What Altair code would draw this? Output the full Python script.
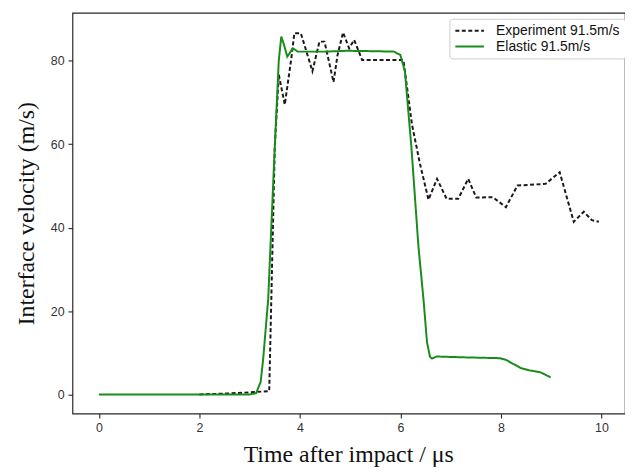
import altair as alt
import pandas as pd

# Experiment 91.5 m/s (dashed black)
exp_t = [2.0, 2.5, 3.0, 3.39, 3.50, 3.58, 3.70, 3.83, 3.89, 4.02, 4.25, 4.39, 4.49,
         4.67, 4.75, 4.86, 4.98, 5.08, 5.24, 6.06, 6.23, 6.39, 6.56, 6.73, 6.92,
         7.15, 7.35, 7.51, 7.84, 8.10, 8.33, 8.89, 9.17, 9.45, 9.65, 9.81, 9.95]
exp_v = [0.0, 0.2, 0.5, 0.8, 59.2, 76.7, 69.5, 80.6, 86.6, 86.6, 77.5, 84.6, 84.6,
         74.9, 81.4, 86.8, 83.0, 85.0, 80.2, 80.2, 64.8, 55.3, 46.7, 51.7, 46.9,
         46.9, 51.7, 47.2, 47.3, 44.9, 50.1, 50.5, 53.3, 41.4, 43.8, 41.8, 41.4]

# Elastic 91.5 m/s (solid green)
el_t = [0.0, 3.0, 3.13, 3.22, 3.27, 3.37, 3.50, 3.58, 3.63, 3.68, 3.75, 3.86, 3.96,
        4.5, 4.94, 5.5, 5.87, 6.00, 6.09, 6.22, 6.36, 6.46, 6.53, 6.59, 6.63, 6.72,
        7.25, 7.97, 8.10, 8.20, 8.30, 8.40, 8.56, 8.79, 8.99]
el_v = [0.0, 0.0, 0.3, 3.0, 8.5, 22.9, 59.2, 80.0, 85.8, 84.0, 81.0, 83.0, 82.2,
        82.2, 82.4, 82.3, 82.2, 81.4, 77.5, 59.2, 35.4, 22.8, 12.5, 9.0, 8.6, 9.1,
        8.9, 8.7, 8.3, 7.6, 7.0, 6.3, 5.8, 5.3, 4.1]

series = ["Experiment 91.5m/s", "Elastic 91.5m/s"]
colors = ["#1a1a1a", "#1a8c1a"]
dashes = [[4, 2.5], [1, 0]]

rows = []
for i, (t, v) in enumerate(zip(exp_t, exp_v)):
    rows.append({"t": t, "v": v, "series": series[0], "order": i})
for i, (t, v) in enumerate(zip(el_t, el_v)):
    rows.append({"t": t, "v": v, "series": series[1], "order": i})
df = pd.DataFrame(rows)

leg = alt.Legend(title=None, orient="none", legendX=380, legendY=6,
                 fillColor="white", strokeColor="#cccccc", cornerRadius=3, padding=5,
                 labelFont="Liberation Sans", labelFontSize=14, labelColor="#111111",
                 symbolType="M-1,0H3.8", symbolSize=144, symbolStrokeWidth=2,
                 rowPadding=2, labelOffset=28)

chart = alt.Chart(df).mark_line(strokeWidth=2).encode(
    x=alt.X("t:Q", scale=alt.Scale(domain=[-0.525, 10.47], nice=False, zero=False),
            axis=alt.Axis(values=[0, 2, 4, 6, 8, 10], title="Time after impact / μs",
                          grid=False, domain=False,
                          titleX=278, titleY=48.5, titleBaseline="alphabetic",
                          titleAlign="center")),
    y=alt.Y("v:Q", scale=alt.Scale(domain=[-4.59, 91.5], nice=False, zero=False),
            axis=alt.Axis(values=[0, 20, 40, 60, 80], title="Interface velocity (m/s)",
                          grid=False, domain=False,
                          titleX=-46, titleY=202, titleAngle=-90,
                          titleBaseline="middle", titleAlign="center")),
    color=alt.Color("series:N", scale=alt.Scale(domain=series, range=colors), legend=leg),
    strokeDash=alt.StrokeDash("series:N", scale=alt.Scale(domain=series, range=dashes),
                              legend=leg),
    order="order:Q",
).properties(
    width=557, height=404,
    padding={"left": 65, "top": 3, "right": 0, "bottom": 57},
    autosize=alt.AutoSizeParams(type="none"),
    background="white",
).configure_view(
    stroke="#262626", strokeWidth=1.2
).configure_axis(
    grid=False, domain=False,
    tickColor="#262626", tickSize=4.5, tickWidth=1.1,
    labelFont="Liberation Sans", labelFontSize=12.5, labelColor="#333333",
    labelPadding=4,
    titleFont="Liberation Serif", titleFontSize=24, titleFontWeight="normal",
    titleColor="#111111",
)

chart.save("out.html", embed_options={"renderer": "svg", "actions": False})
